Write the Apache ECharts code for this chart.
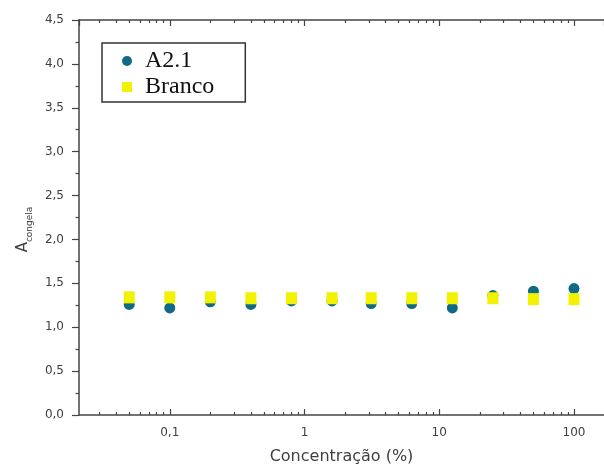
<!DOCTYPE html>
<html>
<head>
<meta charset="utf-8">
<script src="https://cdn.jsdelivr.net/npm/echarts@6/dist/echarts.min.js"></script>
<style>
  html, body { margin: 0; background: #fff; }
  #chart { width: 604px; height: 476px; }
</style>
</head>
<body>
<div id="chart"></div>
<script>
// dados
var concentracao = [0.05, 0.1, 0.2, 0.4, 0.8, 1.6, 3.125, 6.25, 12.5, 25, 50, 100];
var a21 = [1.26, 1.22, 1.29, 1.26, 1.30, 1.30, 1.27, 1.27, 1.22, 1.36, 1.41, 1.44];
var branco = [1.34, 1.34, 1.34, 1.33, 1.33, 1.33, 1.33, 1.33, 1.33, 1.33, 1.32, 1.32];
var decadas = [0.01, 0.1, 1, 10];
var multiplos = [2, 3, 4, 5, 6, 7, 8, 9];

var xMin = 0.0212, xMax = 167;
var cinza = '#404040';
var fonte = 'DejaVu Sans';

// ticks menores do eixo log (2..9 em cada década)
var minorTicks = [];
decadas.forEach(function (d) {
  multiplos.forEach(function (k) {
    var v = k * d;
    if (v > xMin && v < xMax) minorTicks.push(Math.log10(v));
  });
});

function pares(xs, ys) {
  return xs.map(function (x, i) { return [x, ys[i]]; });
}
function virgula(v) {
  return String(v).replace('.', ',');
}

var eixoLinha = { show: true, onZero: false, lineStyle: { color: '#444', width: 1.5 } };

function eixoLog(pos, labels) {
  return {
    type: 'log', position: pos, min: xMin, max: xMax, logBase: 10,
    axisLine: eixoLinha,
    axisTick: { show: true, inside: true, length: 6, lineStyle: { color: '#444', width: 1.2 } },
    splitLine: { show: false },
    axisLabel: {
      show: labels, color: cinza, fontFamily: fonte, fontSize: 12, margin: 12,
      showMinLabel: false, showMaxLabel: false,
      formatter: function (v) { return virgula(v); }
    },
    name: labels ? 'Concentração (%)' : '',
    nameLocation: 'middle', nameGap: 34,
    nameTextStyle: { color: cinza, fontFamily: fonte, fontSize: 16 }
  };
}
function eixoMenor(pos) {
  return {
    type: 'value', position: pos, min: Math.log10(xMin), max: Math.log10(xMax),
    axisLine: { show: false, onZero: false },
    axisTick: { show: true, inside: true, length: 3, customValues: minorTicks, lineStyle: { color: '#444', width: 1.2 } },
    axisLabel: { show: false },
    splitLine: { show: false }
  };
}

var chart = echarts.init(document.getElementById('chart'));
chart.setOption({
  backgroundColor: '#fff',
  animation: false,
  grid: { left: 79, right: 0, top: 20, bottom: 61 },
  legend: {
    left: 102, top: 43, orient: 'vertical',
    data: ['A2.1', 'Branco'],
    itemWidth: 10, itemHeight: 10, itemGap: 2,
    padding: [6, 31, 3, 20],
    borderColor: '#333', borderWidth: 1.5, backgroundColor: '#fff',
    textStyle: { fontFamily: 'Liberation Serif', fontSize: 24, color: '#111', lineHeight: 24, padding: [0, 0, 0, 8] }
  },
  xAxis: [eixoLog('bottom', true), eixoLog('top', false), eixoMenor('bottom'), eixoMenor('top')],
  yAxis: {
    type: 'value', min: 0, max: 4.5, interval: 0.5,
    axisLine: eixoLinha,
    axisTick: { show: true, inside: false, length: 7, lineStyle: { color: '#444', width: 1.2 } },
    minorTick: { show: true, splitNumber: 2, length: 3.5, lineStyle: { color: '#444', width: 1.2 } },
    splitLine: { show: false },
    axisLabel: {
      color: cinza, fontFamily: fonte, fontSize: 12, margin: 15,
      formatter: function (v) { return v.toFixed(1).replace('.', ','); }
    },
    name: '{a|A}{s|congela}',
    nameLocation: 'middle', nameRotate: 90, nameGap: 45,
    nameTextStyle: {
      padding: [0, 24, 0, 0],
      rich: {
        a: { fontFamily: fonte, fontSize: 15, color: cinza },
        s: { fontFamily: fonte, fontSize: 9, color: cinza, verticalAlign: 'bottom', padding: [0, 0, -3, 0] }
      }
    }
  },
  series: [
    {
      name: 'A2.1', type: 'scatter', xAxisIndex: 0,
      symbol: 'circle', symbolSize: 11,
      itemStyle: { color: '#106a85', opacity: 1 },
      data: pares(concentracao, a21)
    },
    {
      name: 'Branco', type: 'scatter', xAxisIndex: 0,
      symbol: 'rect', symbolSize: [11, 12],
      itemStyle: { color: '#f2f200', opacity: 1 },
      data: pares(concentracao, branco)
    }
  ]
});
</script>
</body>
</html>
